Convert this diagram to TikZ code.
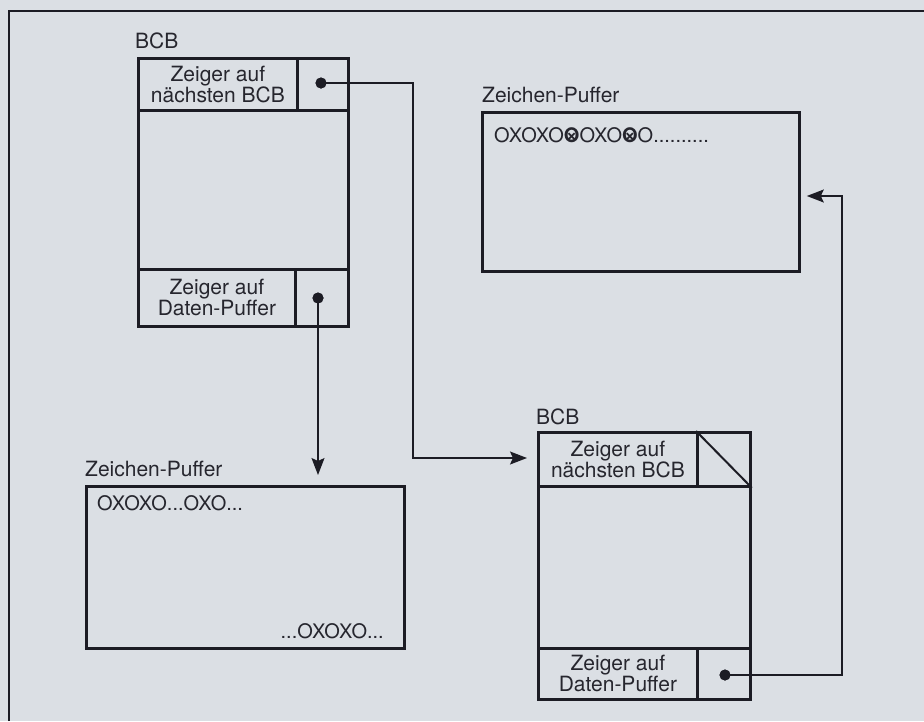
\documentclass[tikz,border=0pt]{standalone}
\usepackage{fontspec}
\setmainfont{TeX Gyre Heros}
\usetikzlibrary{arrows.meta}
\definecolor{paper}{RGB}{219,223,228}
\definecolor{ink}{RGB}{28,28,36}
\definecolor{txt}{RGB}{38,38,46}
\newcommand\lblfont{\fontsize{21}{21}\selectfont}
\newcommand\oxofont{\fontsize{20}{20}\selectfont}
\newcommand\oxsym{\ooalign{\textbf{O}\cr\hidewidth\raisebox{0.1ex}{\scalebox{0.95}{\textbf{×}}}\hidewidth\cr}}
\begin{document}
\begin{tikzpicture}[x=1pt,y=-1pt,
  box/.style={draw=ink, line width=2.8pt, inner sep=0pt, anchor=north west},
  cell/.style={box, font=\lblfont, text=txt, align=center},
  lbl/.style={font=\lblfont, text=txt, inner sep=0pt, anchor=base west},
  oxo/.style={font=\oxofont, text=txt, inner sep=0pt},
  conn/.style={draw=ink, line width=1.4pt},
  arr/.style={conn, -{Stealth[length=17pt,width=13pt,inset=3pt]}},
  dotn/.style={circle, fill=ink, minimum size=11pt, inner sep=0pt},
  frame/.style={draw=ink, line width=1.6pt}]
\fill[paper] (0,0) rectangle (924,721);
\useasboundingbox (0,0) rectangle (924,721);
\draw[frame] (9,721) -- (9,11) -- (924,11);

% BCB 1
\node[lbl] (bcb1l) at (135,48) {BCB};
\node[box, minimum width=210pt, minimum height=268pt] (bcb1) at (137,57) {};
\node[cell, minimum width=159pt, minimum height=52pt] (bcb1n) at (137,57) {Zeiger auf\\nächsten BCB};
\node[cell, minimum width=51pt, minimum height=52pt] (bcb1np) at (296,57) {};
\node[cell, minimum width=157pt, minimum height=57pt] (bcb1d) at (137,268) {Zeiger auf\\Daten-Puffer};
\node[cell, minimum width=53pt, minimum height=57pt] (bcb1dp) at (294,268) {};

% BCB 2
\node[lbl] (bcb2l) at (536,424) {BCB};
\node[box, minimum width=212pt, minimum height=267pt] (bcb2) at (537,431) {};
\node[cell, minimum width=159pt, minimum height=54pt] (bcb2n) at (537,431) {Zeiger auf\\nächsten BCB};
\node[cell, minimum width=53pt, minimum height=54pt] (bcb2np) at (696,431) {};
\draw[ink, line width=2pt] (bcb2np.north west) -- (bcb2np.south east);
\node[cell, minimum width=159pt, minimum height=51pt] (bcb2d) at (537,647) {Zeiger auf\\Daten-Puffer};
\node[cell, minimum width=53pt, minimum height=51pt] (bcb2dp) at (696,647) {};

% Zeichen-Puffer 1
\node[lbl] (zp1l) at (482,102) {Zeichen-Puffer};
\node[box, minimum width=317pt, minimum height=159pt] (zp1) at (481,111) {};
\node[oxo, anchor=west] (zp1t) at (494,135) {OXOXO\oxsym OXO\oxsym O..........};

% Zeichen-Puffer 2
\node[lbl] (zp2l) at (85,476) {Zeichen-Puffer};
\node[box, minimum width=318pt, minimum height=162pt] (zp2) at (85,485) {};
\node[oxo, anchor=west] (zp2t) at (97,503) {OXOXO...OXO...};
\node[oxo, anchor=east] (zp2b) at (384,631) {...OXOXO...};

% connectors
\coordinate (k1) at (413,458);
\coordinate (k3) at (842,196);
\node[dotn] (dot1) at (321,83) {};
\node[dotn] (dot2) at (318,298) {};
\node[dotn] (dot3) at (725,675) {};
\draw[arr, shorten >=10pt] (dot1.center) -| (k1) -- (k1 -| bcb2.west);
\draw[arr, shorten >=10pt] (dot2.center) -- (dot2.center |- zp2.north);
\draw[arr, shorten >=6pt] (dot3.center) -| (k3) -- (k3 -| zp1.east);
\node[dotn] at (dot1) {};
\node[dotn] at (dot2) {};
\node[dotn] at (dot3) {};
\end{tikzpicture}
\end{document}
